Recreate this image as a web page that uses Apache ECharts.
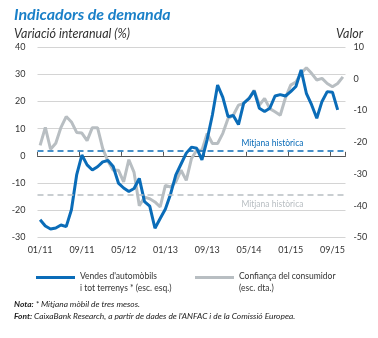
<!DOCTYPE html>
<html>
<head>
<meta charset="utf-8">
<script src="https://cdn.jsdelivr.net/npm/echarts@6/dist/echarts.min.js"></script>
<style>
html,body{margin:0;padding:0;background:#fff;}
#chart{width:378px;height:338px;}
</style>
</head>
<body>
<div id="chart"></div>
<script>
// Monthly categories 01/11 .. 11/15
var months = [
 '01/11','02/11','03/11','04/11','05/11','06/11','07/11','08/11','09/11','10/11','11/11','12/11',
 '01/12','02/12','03/12','04/12','05/12','06/12','07/12','08/12','09/12','10/12','11/12','12/12',
 '01/13','02/13','03/13','04/13','05/13','06/13','07/13','08/13','09/13','10/13','11/13','12/13',
 '01/14','02/14','03/14','04/14','05/14','06/14','07/14','08/14','09/14','10/14','11/14','12/14',
 '01/15','02/15','03/15','04/15','05/15','06/15','07/15','08/15','09/15','10/15','11/15'
];
// Car sales (3-month moving avg, % yoy) - left axis
var carSales = [
 -23.5,-25.8,-26.9,-26.5,-25.4,-26.0,-19.8,-7.0,0.3,-3.3,-5.2,-4.0,
 -2.2,-1.7,-3.9,-10.0,-11.8,-13.1,-12.0,-8.3,-16.8,-18.5,-26.6,-23.0,
 -19.5,-14.0,-7.0,-3.0,1.0,3.2,2.8,-1.5,6.0,15.0,26.0,21.5,
 14.4,14.8,11.5,19.4,21.0,23.9,17.5,16.3,17.5,22.0,22.5,22.0,
 23.6,25.5,31.6,23.0,18.8,13.8,20.0,23.6,23.4,16.9
];
// Consumer confidence (value) - right axis
var confidence = [
 -21.0,-15.3,-22.2,-20.3,-15.3,-11.9,-13.6,-16.9,-17.1,-19.5,-15.4,-15.4,
 -22.0,-26.0,-28.8,-28.8,-32.5,-25.5,-29.5,-40.0,-37.3,-37.8,-38.8,-40.4,
 -33.6,-34.1,-32.5,-28.8,-32.0,-25.1,-22.5,-22.5,-17.2,-20.4,-20.4,-17.2,
 -12.5,-11.5,-8.3,-7.8,-6.2,-3.6,-8.3,-6.2,-9.4,-10.4,-11.5,-6.0,
 -2.0,-1.0,1.7,3.5,1.7,-0.4,0.1,-1.5,-2.5,-1.5,0.6
];
var carSalesAvg = 1.7;
var confidenceAvg = -36.5;
var avgLabel = 'Mitjana històrica';
var seriesNames = ['Vendes', 'Confiança'];
var legendTexts = ["Vendes d'automòbils\ni tot terrenys * (esc. esq.)", "Confiança del consumidor\n(esc. dta.)"];

var BLUE = '#0a6cb8';
var GREY = '#b8bec2';
var FONT = 'Lato, "Noto Sans", sans-serif';

function avgMarkLine(value, color, pos, dist) {
  return {
    silent: true, symbol: 'none',
    label: {show: true, position: pos, formatter: avgLabel, color: color,
            fontFamily: FONT, fontSize: 8.5, distance: dist},
    data: [
      {yAxis: value, lineStyle: {color: color, width: 1.6, type: [6, 4]}, label: {show: false}},
      [{coord: [months[31], value], lineStyle: {color: 'rgba(0,0,0,0)', width: 0}},
       {coord: [months[58], value]}]
    ]
  };
}

// bar at the top of a 13px-high icon box so it sits level with the first text line
var LEGEND_ICON = 'path://M0,0H39V3H0Z M19,12.95H19.02V13H19Z';

function legendFor(idx, left) {
  return {
    data: [seriesNames[idx]], left: left, top: 265, icon: LEGEND_ICON,
    itemWidth: 39, itemHeight: 13, itemGap: 0,
    itemStyle: {borderWidth: 0},
    formatter: function(){ return legendTexts[idx]; },
    textStyle: {fontFamily: FONT, fontSize: 8.5, color: '#333', lineHeight: 12.5}
  };
}

var chart = echarts.init(document.getElementById('chart'), null, {renderer: 'canvas'});
var option = {
  animation: false,
  backgroundColor: '#fff',
  title: [
    {text: 'Indicadors de demanda', left: 9, top: 2,
     textStyle: {fontFamily: FONT, fontSize: 16, fontWeight: 'bold', fontStyle: 'italic', color: '#1a80c8'}},
    {text: 'Variació interanual (%)', left: 9, top: 22,
     textStyle: {fontFamily: FONT, fontSize: 12.5, fontWeight: 'normal', fontStyle: 'italic', color: '#333'}},
    {text: 'Valor', right: 10, top: 22,
     textStyle: {fontFamily: FONT, fontSize: 12.5, fontWeight: 'normal', fontStyle: 'italic', color: '#333'}},
    {text: '{b|Nota:} * Mitjana mòbil de tres mesos.', left: 9, top: 295,
     textStyle: {fontFamily: FONT, fontSize: 8.4, fontStyle: 'italic', fontWeight: 'normal', color: '#222',
       rich: {b: {fontFamily: FONT, fontSize: 8.4, fontStyle: 'italic', fontWeight: 'bold', color: '#222'}}}},
    {text: "{b|Font:} CaixaBank Research, a partir de dades de l'ANFAC i de la Comissió Europea.", left: 9, top: 307,
     textStyle: {fontFamily: FONT, fontSize: 8.4, fontStyle: 'italic', fontWeight: 'normal', color: '#222',
       rich: {b: {fontFamily: FONT, fontSize: 8.4, fontStyle: 'italic', fontWeight: 'bold', color: '#222'}}}}
  ],
  legend: [legendFor(0, 31), legendFor(1, 190)],
  grid: {left: 37.5, top: 47, width: 308, height: 190.5, containLabel: false},
  xAxis: [
    {type: 'category', data: months, boundaryGap: true, position: 'bottom',
     axisLine: {show: false, onZero: false}, axisTick: {show: false},
     axisLabel: {interval: 7, fontFamily: FONT, fontSize: 9, color: '#333', margin: 8},
     splitLine: {show: false}},
    {type: 'category', data: months, boundaryGap: true, position: 'bottom',
     axisLine: {show: true, onZero: true, onZeroAxisIndex: 0, lineStyle: {color: '#555', width: 1}},
     axisTick: {show: true, inside: true, length: 4, interval: 7, lineStyle: {color: '#555', width: 1}},
     axisLabel: {show: false}, splitLine: {show: false}}
  ],
  yAxis: [
    {type: 'value', min: -30, max: 40, interval: 10, position: 'left',
     axisLine: {show: false}, axisTick: {show: false},
     axisLabel: {fontFamily: FONT, fontSize: 9, color: '#333', margin: 12},
     splitLine: {show: true, lineStyle: {color: '#d4d4d4', width: 1}}},
    {type: 'value', min: -50, max: 10, interval: 10, position: 'right',
     axisLine: {show: false}, axisTick: {show: false},
     axisLabel: {fontFamily: FONT, fontSize: 9, color: '#333', margin: 8, align: 'left'},
     splitLine: {show: false}}
  ],
  series: [
    {name: seriesNames[1], type: 'line', xAxisIndex: 0, yAxisIndex: 1, data: confidence,
     symbol: 'none', lineStyle: {color: GREY, width: 3}, itemStyle: {color: GREY}, z: 3,
     markLine: avgMarkLine(confidenceAvg, GREY, 'insideMiddleBottom', 5)},
    {name: seriesNames[0], type: 'line', xAxisIndex: 0, yAxisIndex: 0, data: carSales,
     symbol: 'none', lineStyle: {color: BLUE, width: 3}, itemStyle: {color: BLUE}, z: 4,
     markLine: avgMarkLine(carSalesAvg, BLUE, 'insideMiddleTop', 3)}
  ]
};
chart.setOption(option);
</script>
</body>
</html>
